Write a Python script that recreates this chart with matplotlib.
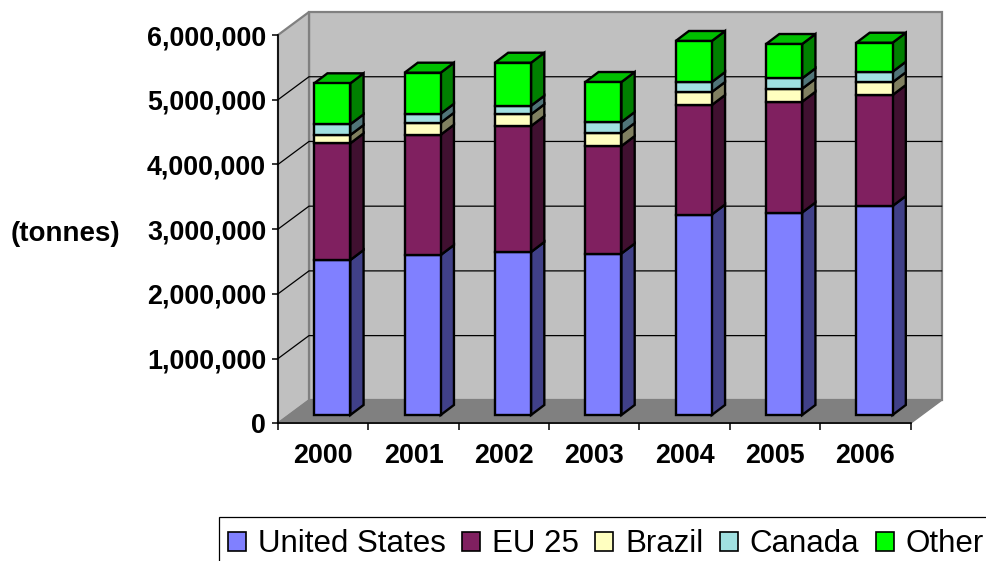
import numpy as np
import matplotlib
matplotlib.use('Agg')
import matplotlib.pyplot as plt
from matplotlib.patches import Polygon, Patch, Rectangle

years = ['2000', '2001', '2002', '2003', '2004', '2005', '2006']
names = ['United States', 'EU 25', 'Brazil', 'Canada', 'Other']

us = [2395000, 2472000, 2519000, 2495000, 3098000, 3129000, 3229000]
eu = [1803000, 1859000, 1946000, 1661000, 1692000, 1712000, 1715000]
brazil = [128000, 185000, 181000, 201000, 201000, 201000, 197000]
canada = [166000, 139000, 133000, 170000, 154000, 160000, 163000]
other = [633000, 634000, 664000, 618000, 634000, 530000, 448000]

front_colors = ['#8080FF', '#802060', '#FFFFC0', '#A0E0E0', '#00FF00']
side_colors = ['#404088', '#401030', '#808060', '#507478', '#008000']
top_color = '#00C000'

plt.rcParams['font.family'] = ['Liberation Sans', 'DejaVu Sans']

W, H = 986, 561
fig = plt.figure(figsize=(W / 100, H / 100), dpi=100)
# front plane of the 3D box, the walls are drawn behind it with an offset
ax = fig.add_axes([278 / W, 1 - 423.3 / H, 632.6 / W, 388.3 / H])
ax.set_xlim(-0.5, 6.5)
ax.set_ylim(0, 6000000)
ax.patch.set_visible(False)

depth_x = 0.343
depth_y = 355000
x0, x1 = -0.5, 6.5
y_top = 6000000

wall_edge = dict(edgecolor='#808080', linewidth=1.6, clip_on=False)
ax.add_patch(Polygon([(x0 + depth_x, depth_y), (x1 + depth_x, depth_y),
                      (x1 + depth_x, y_top + depth_y), (x0 + depth_x, y_top + depth_y)],
                     facecolor='#C0C0C0', zorder=1, **wall_edge))
ax.add_patch(Polygon([(x0, 0), (x0 + depth_x, depth_y),
                      (x0 + depth_x, y_top + depth_y), (x0, y_top)],
                     facecolor='#C0C0C0', zorder=1, **wall_edge))
ax.add_patch(Polygon([(x0, 0), (x1, 0), (x1 + depth_x, depth_y), (x0 + depth_x, depth_y)],
                     facecolor='#808080', edgecolor='#808080', linewidth=1, clip_on=False, zorder=1))

# gridlines run along the left wall and across the back wall
for v in range(1000000, 6000000, 1000000):
    ax.plot([x0, x0 + depth_x, x1 + depth_x], [v, v + depth_y, v + depth_y],
            color='black', lw=0.9, clip_on=False, zorder=2)

series = [us, eu, brazil, canada, other]
bar_w = 0.40
shift_x = 0.10
lift_y = 128000
bar_dx = 0.147
bar_dy = 155000
edge = dict(edgecolor='black', linewidth=1.7, joinstyle='miter', clip_on=False)

for i in range(len(years)):
    left = i + shift_x - bar_w / 2
    right = left + bar_w
    base = lift_y
    for j, values in enumerate(series):
        top = base + values[i]
        ax.add_patch(Polygon([(right, base), (right + bar_dx, base + bar_dy),
                              (right + bar_dx, top + bar_dy), (right, top)],
                             facecolor=side_colors[j], zorder=3, **edge))
        ax.add_patch(Polygon([(left, base), (right, base), (right, top), (left, top)],
                             facecolor=front_colors[j], zorder=4, **edge))
        base = top
    ax.add_patch(Polygon([(left, base), (right, base), (right + bar_dx, base + bar_dy),
                          (left + bar_dx, base + bar_dy)],
                         facecolor=top_color, zorder=3, **edge))

for side in ['top', 'right']:
    ax.spines[side].set_visible(False)
for side in ['left', 'bottom']:
    ax.spines[side].set_linewidth(1.2)
    ax.spines[side].set_zorder(5)

ax.set_yticks(range(0, 7000000, 1000000))
ax.yaxis.set_major_formatter(matplotlib.ticker.StrMethodFormatter('{x:,.0f}'))
ax.set_xticks(np.arange(-0.5, 7, 1))
ax.set_xticklabels([''] * 8)
ax.set_xticks(range(7), labels=years, minor=True)
ax.tick_params(axis='y', length=4.5, width=1.1, pad=4, labelsize=19.4)
ax.tick_params(axis='x', which='major', length=5, width=1.1)
ax.tick_params(axis='x', which='minor', length=0, pad=14.5, labelsize=19.4)
for label in ax.get_yticklabels() + ax.get_xticklabels(minor=True):
    label.set_fontweight('bold')

ax.set_ylabel('(tonnes)', rotation=0, fontsize=20, fontweight='bold', ha='center', va='center')
ax.yaxis.set_label_coords((65 - 278) / 632.6, (423.3 - 234) / 388.3)

# legend box runs off the right and bottom of the figure
fig.add_artist(Rectangle((218.5 / W, 0 - 20 / H), 800 / W, (561 + 20 - 517) / H,
                         transform=fig.transFigure, facecolor='white', edgecolor='black',
                         linewidth=0.9, zorder=1))
handles = [Patch(facecolor=c, edgecolor='black', linewidth=1.2) for c in front_colors]
leg = fig.legend(handles, names, ncols=5, loc='upper left',
                 bbox_to_anchor=(218.5 / W, 1 - 520 / H), bbox_transform=fig.transFigure,
                 fontsize=22.5, frameon=False, borderaxespad=0, borderpad=0.3,
                 handlelength=0.576, handleheight=0.576, handletextpad=0.384, columnspacing=0.52)
leg.set_zorder(2)

fig.savefig('out.png', dpi=100)
